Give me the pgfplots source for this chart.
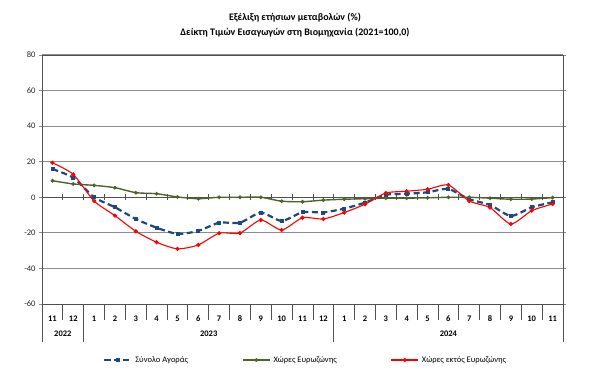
\documentclass[border=0pt]{standalone}
\usepackage{pgfplots}
\pgfplotsset{compat=1.18}
\usepackage{fontspec}
\setmainfont{Carlito}
\definecolor{cblue}{HTML}{1F497D}
\definecolor{cgreen}{HTML}{4F6228}
\definecolor{cred}{HTML}{FF0000}
\definecolor{gridc}{HTML}{8C8C8C}
\definecolor{axc}{HTML}{505050}
\begin{document}
\begin{tikzpicture}
\path[use as bounding box] (-42bp,-84bp) rectangle (558bp,304bp);
\node[align=center, font=\fontsize{10bp}{15bp}\selectfont\bfseries] at (253bp,279bp)
  {Εξέλιξη ετήσιων μεταβολών (\%)\\Δείκτη Τιμών Εισαγωγών στη Βιομηχανία (2021=100,0)};
\begin{axis}[
  scale only axis, width=521bp, height=249bp,
  xmin=-0.5, xmax=24.5, ymin=-60, ymax=80,
  clip=false,
  ytick={-60,-40,-20,0,20,40,60,80},
  yticklabels={-60,-40,-20,0,20,40,60,80},
  xtick={0,...,24},
  xticklabels={11,12,1,2,3,4,5,6,7,8,9,10,11,12,1,2,3,4,5,6,7,8,9,10,11},
  xticklabel style={font=\fontsize{8.5bp}{10bp}\selectfont\bfseries, anchor=center, yshift=-12bp},
  yticklabel style={font=\fontsize{8.5bp}{10bp}\selectfont, text=black!85},
  xtick style={draw=none},
  ytick style={gridc, line width=0.8bp},
  tick align=outside,
  major tick length=3bp,
  ymajorgrids,
  grid style={gridc, line width=1bp},
  axis line style={axc, line width=0.9bp},
  legend style={at={(0.506,-0.225)}, anchor=center, draw=none, fill=none,
    legend columns=3, font=\fontsize{8.5bp}{10bp}\selectfont,
    /tikz/every even column/.append style={column sep=52bp},
    /tikz/every odd column/.append style={column sep=1bp}},
  legend image code/.code={\draw[mark repeat=2,mark phase=2] plot coordinates {(0bp,0bp) (13.5bp,0bp) (27bp,0bp)};},
]
\draw[axc, line width=1bp] (axis cs:-0.5,0) -- (axis cs:24.5,0);
\pgfplotsinvokeforeach{0.5,1.5,2.5,3.5,4.5,5.5,6.5,7.5,8.5,9.5,10.5,11.5,12.5,13.5,14.5,15.5,16.5,17.5,18.5,19.5,20.5,21.5,22.5,23.5}{
  \draw[axc, line width=0.8bp] ([yshift=-3bp]axis cs:#1,0) -- ([yshift=3bp]axis cs:#1,0);
}
\pgfplotsinvokeforeach{0.5,2.5,3.5,4.5,5.5,6.5,7.5,8.5,9.5,10.5,11.5,12.5,14.5,15.5,16.5,17.5,18.5,19.5,20.5,21.5,22.5,23.5}{
  \draw[axc, line width=0.8bp] (axis cs:#1,-60) -- ([yshift=-16bp]axis cs:#1,-60);
}
\pgfplotsinvokeforeach{-0.5,1.5,13.5,24.5}{
  \draw[axc, line width=0.8bp] (axis cs:#1,-60) -- ([yshift=-38bp]axis cs:#1,-60);
}
\node[font=\fontsize{8.5bp}{10bp}\selectfont\bfseries] at ([yshift=-30bp]axis cs:0.5,-60) {2022};
\node[font=\fontsize{8.5bp}{10bp}\selectfont\bfseries] at ([yshift=-30bp]axis cs:7.5,-60) {2023};
\node[font=\fontsize{8.5bp}{10bp}\selectfont\bfseries] at ([yshift=-30bp]axis cs:19,-60) {2024};

\addplot[cblue, line width=2.2bp, dash pattern=on 6bp off 3.5bp, smooth, tension=0.4,
  mark=square*, mark size=1.5bp, mark options={solid, line width=0.8bp}] coordinates {
(0,15.9) (1,11) (2,0) (3,-5.6) (4,-12.2) (5,-17.1) (6,-20.6) (7,-18.9) (8,-14.3)
(9,-14.3) (10,-8.6) (11,-13.3) (12,-8.4) (13,-8.5) (14,-6.4) (15,-3) (16,1.4)
(17,2) (18,2.8) (19,4.7) (20,-1.1) (21,-4.3) (22,-10.5) (23,-5.6) (24,-2.8)};
\addlegendentry{Σύνολο Αγοράς}
\addplot[cgreen, line width=1.4bp, smooth, tension=0.4,
  mark=*, mark size=1.1bp] coordinates {
(0,9.3) (1,7.5) (2,6.7) (3,5.4) (4,2.6) (5,2.0) (6,0.2) (7,-0.8) (8,0)
(9,0) (10,0) (11,-2.2) (12,-2.5) (13,-1.6) (14,-1.1) (15,-0.8) (16,-0.5)
(17,-0.5) (18,-0.3) (19,0) (20,0) (21,-0.5) (22,-1.1) (23,-1) (24,-0.2)};
\addlegendentry{Χώρες Ευρωζώνης}
\addplot[cred, line width=1.1bp, smooth, tension=0.4,
  mark=*, mark size=1.5bp] coordinates {
(0,19.4) (1,12.9) (2,-2.1) (3,-10.3) (4,-19.1) (5,-25.3) (6,-29) (7,-26.8) (8,-20.2)
(9,-20.1) (10,-12.8) (11,-18.4) (12,-11.5) (13,-12.2) (14,-8.6) (15,-3.9) (16,2.4)
(17,3.4) (18,4.5) (19,6.9) (20,-2.1) (21,-5.8) (22,-15) (23,-7.5) (24,-3.8)};
\addlegendentry{Χώρες εκτός Ευρωζώνης}
\end{axis}
\end{tikzpicture}
\end{document}
